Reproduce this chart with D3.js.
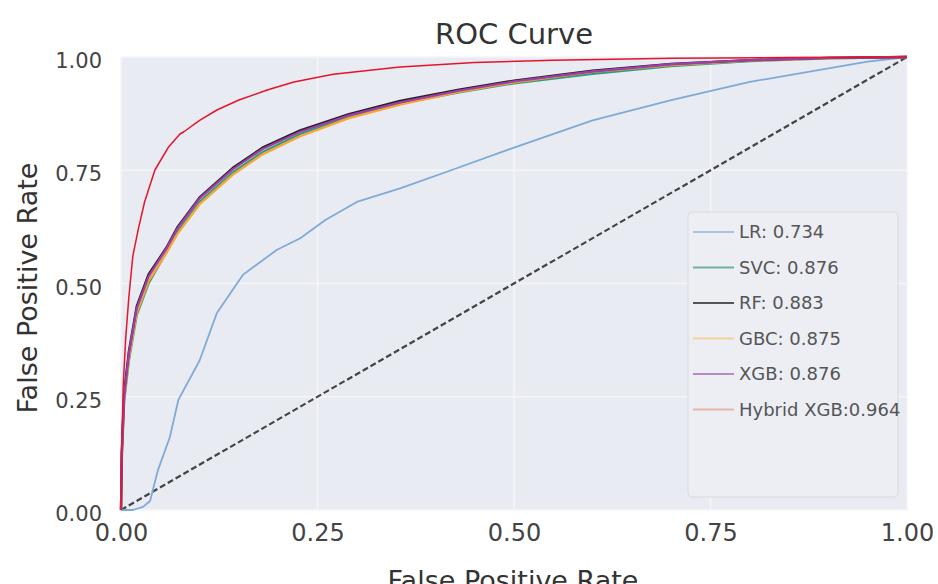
<html>
<head>
<script src="https://cdn.jsdelivr.net/npm/d3@7"></script>
<style>
  body { margin: 0; background: #fff; }
  text { font-family: "DejaVu Sans", sans-serif; }
</style>
</head>
<body>
<svg id="chart" width="938" height="584"></svg>
<script>
// ROC points: [fpr, tpr]
var lrPoints = [[0,0],[0.015,0.0],[0.028,0.007],[0.037,0.02],[0.047,0.088],[0.062,0.16],[0.073,0.243],[0.1,0.33],
  [0.122,0.435],[0.155,0.519],[0.198,0.574],[0.228,0.6],[0.26,0.64],[0.3,0.68],[0.355,0.71],[0.42,0.75],
  [0.5,0.8],[0.6,0.86],[0.7,0.905],[0.8,0.945],[0.9,0.975],[0.95,0.99],[1,1]];
var svcPoints = [[0,0],[0.001,0.11],[0.004,0.24],[0.01,0.33],[0.02,0.43],[0.035,0.50],[0.058,0.57],[0.072,0.615],
  [0.1,0.68],[0.142,0.745],[0.18,0.79],[0.228,0.83],[0.29,0.868],[0.355,0.897],[0.43,0.922],[0.5,0.942],
  [0.6,0.963],[0.7,0.98],[0.8,0.991],[0.9,0.997],[1,1]];
var rfPoints = [[0,0],[0.001,0.13],[0.004,0.26],[0.01,0.35],[0.02,0.45],[0.035,0.52],[0.058,0.58],[0.072,0.625],
  [0.1,0.69],[0.142,0.755],[0.18,0.80],[0.228,0.838],[0.29,0.874],[0.355,0.903],[0.43,0.928],[0.5,0.948],
  [0.6,0.97],[0.7,0.985],[0.8,0.993],[0.9,0.998],[1,1]];
var gbcPoints = [[0,0],[0.001,0.12],[0.004,0.245],[0.01,0.335],[0.02,0.435],[0.035,0.505],[0.058,0.568],[0.072,0.61],
  [0.1,0.675],[0.142,0.74],[0.18,0.785],[0.228,0.825],[0.29,0.865],[0.355,0.895],[0.43,0.923],[0.5,0.944],
  [0.6,0.967],[0.7,0.982],[0.8,0.992],[0.9,0.997],[1,1]];
var xgbPoints = [[0,0],[0.001,0.125],[0.004,0.25],[0.01,0.345],[0.02,0.445],[0.035,0.515],[0.058,0.578],[0.072,0.622],
  [0.1,0.688],[0.142,0.752],[0.18,0.797],[0.228,0.835],[0.29,0.871],[0.355,0.9],[0.43,0.926],[0.5,0.946],
  [0.6,0.968],[0.7,0.984],[0.8,0.993],[0.9,0.998],[1,1]];
var hybridPoints = [[0,0],[0.001,0.15],[0.003,0.28],[0.006,0.38],[0.01,0.47],[0.015,0.56],[0.022,0.62],[0.03,0.68],
  [0.043,0.75],[0.06,0.80],[0.075,0.83],[0.08,0.835],[0.1,0.86],[0.122,0.883],[0.15,0.905],[0.186,0.927],
  [0.22,0.945],[0.27,0.962],[0.355,0.978],[0.45,0.988],[0.55,0.993],[0.7,0.997],[0.85,0.999],[1,1]];
var chancePoints = [[0,0],[1,1]];

var legendLabels = ["LR: 0.734", "SVC: 0.876", "RF: 0.883", "GBC: 0.875", "XGB: 0.876", "Hybrid XGB:0.964"];
var modelColors = ["#7eaad8", "#2f9e7a", "#222222", "#f7a534", "#a03ea8", "#e5142e"];
var legendColors = ["#a8c4e0", "#6fb39f", "#555555", "#f5cf9a", "#b88bc4", "#e8b3a8"];
var tickValues = [0, 0.25, 0.5, 0.75, 1];

var series = [lrPoints, svcPoints, rfPoints, gbcPoints, xgbPoints, hybridPoints];

var svg = d3.select("#chart");
var plotL = 121, plotR = 907, plotT = 57, plotB = 510;

var x = d3.scaleLinear().domain([0, 1]).range([plotL, plotR]);
var y = d3.scaleLinear().domain([0, 1]).range([plotB, plotT]);

// background
svg.append("rect")
  .attr("x", plotL).attr("y", plotT)
  .attr("width", plotR - plotL).attr("height", plotB - plotT)
  .attr("fill", "#e9ebf2");

// grid
svg.append("g").selectAll("line").data(tickValues).enter().append("line")
  .attr("x1", d => x(d)).attr("x2", d => x(d))
  .attr("y1", plotT).attr("y2", plotB)
  .attr("stroke", "#f5f5f8").attr("stroke-width", 1.5);
svg.append("g").selectAll("line").data(tickValues).enter().append("line")
  .attr("x1", plotL).attr("x2", plotR)
  .attr("y1", d => y(d)).attr("y2", d => y(d))
  .attr("stroke", "#f5f5f8").attr("stroke-width", 1.5);

// axes (labels only, no tick marks)
var xAxis = d3.axisBottom(x).tickValues(tickValues).tickFormat(d3.format(".2f")).tickSize(0).tickPadding(14);
var gx = svg.append("g").attr("transform", "translate(0," + plotB + ")").call(xAxis);
gx.select(".domain").remove();
gx.selectAll("text").attr("font-size", 24).attr("fill", "#444").attr("font-family", "DejaVu Sans");

var yAxis = d3.axisLeft(y).tickValues(tickValues).tickFormat(d3.format(".2f")).tickSize(0).tickPadding(19);
var gy = svg.append("g").attr("transform", "translate(" + plotL + ",0)").call(yAxis);
gy.select(".domain").remove();
gy.selectAll("text").attr("font-size", 21).attr("fill", "#444").attr("font-family", "DejaVu Sans").attr("dy", "0.5em");

var line = d3.line().x(d => x(d[0])).y(d => y(d[1]));

// chance line
svg.append("path").datum(chancePoints)
  .attr("d", line).attr("fill", "none")
  .attr("stroke", "#444").attr("stroke-width", 2.2).attr("stroke-dasharray", "6,3");

var order = [0, 1, 3, 2, 4, 5];
order.forEach(function (i) {
  svg.append("path").datum(series[i])
    .attr("d", line).attr("fill", "none")
    .attr("stroke", modelColors[i])
    .attr("stroke-width", i == 5 ? 1.5 : (i == 0 ? 1.8 : 2.3))
    .attr("stroke-linejoin", "round");
});

// legend
var lg = svg.append("g");
lg.append("rect").attr("x", 688).attr("y", 212).attr("width", 210).attr("height", 285)
  .attr("rx", 4).attr("fill", "#eceef4").attr("stroke", "#d9d9de");
var items = lg.selectAll("g").data(legendLabels).enter().append("g")
  .attr("transform", (d, i) => "translate(0," + (232 + i * 35.5) + ")");
items.append("line").attr("x1", 693).attr("x2", 734).attr("y1", 0).attr("y2", 0)
  .attr("stroke", (d, i) => legendColors[i]).attr("stroke-width", 2);
items.append("text").attr("x", 739).attr("y", 0).attr("dy", "0.35em")
  .attr("font-size", 18).attr("fill", "#555").text(d => d);

// titles
svg.append("text").attr("x", 514).attr("y", 44).attr("text-anchor", "middle")
  .attr("font-size", 29).attr("fill", "#333").text("ROC Curve");
svg.append("text").attr("x", 513).attr("y", 590).attr("text-anchor", "middle")
  .attr("font-size", 27).attr("fill", "#333").text("False Positive Rate");
svg.append("text").attr("transform", "translate(37,288) rotate(-90)").attr("text-anchor", "middle")
  .attr("font-size", 27).attr("fill", "#333").text("False Positive Rate");
</script>
</body>
</html>
